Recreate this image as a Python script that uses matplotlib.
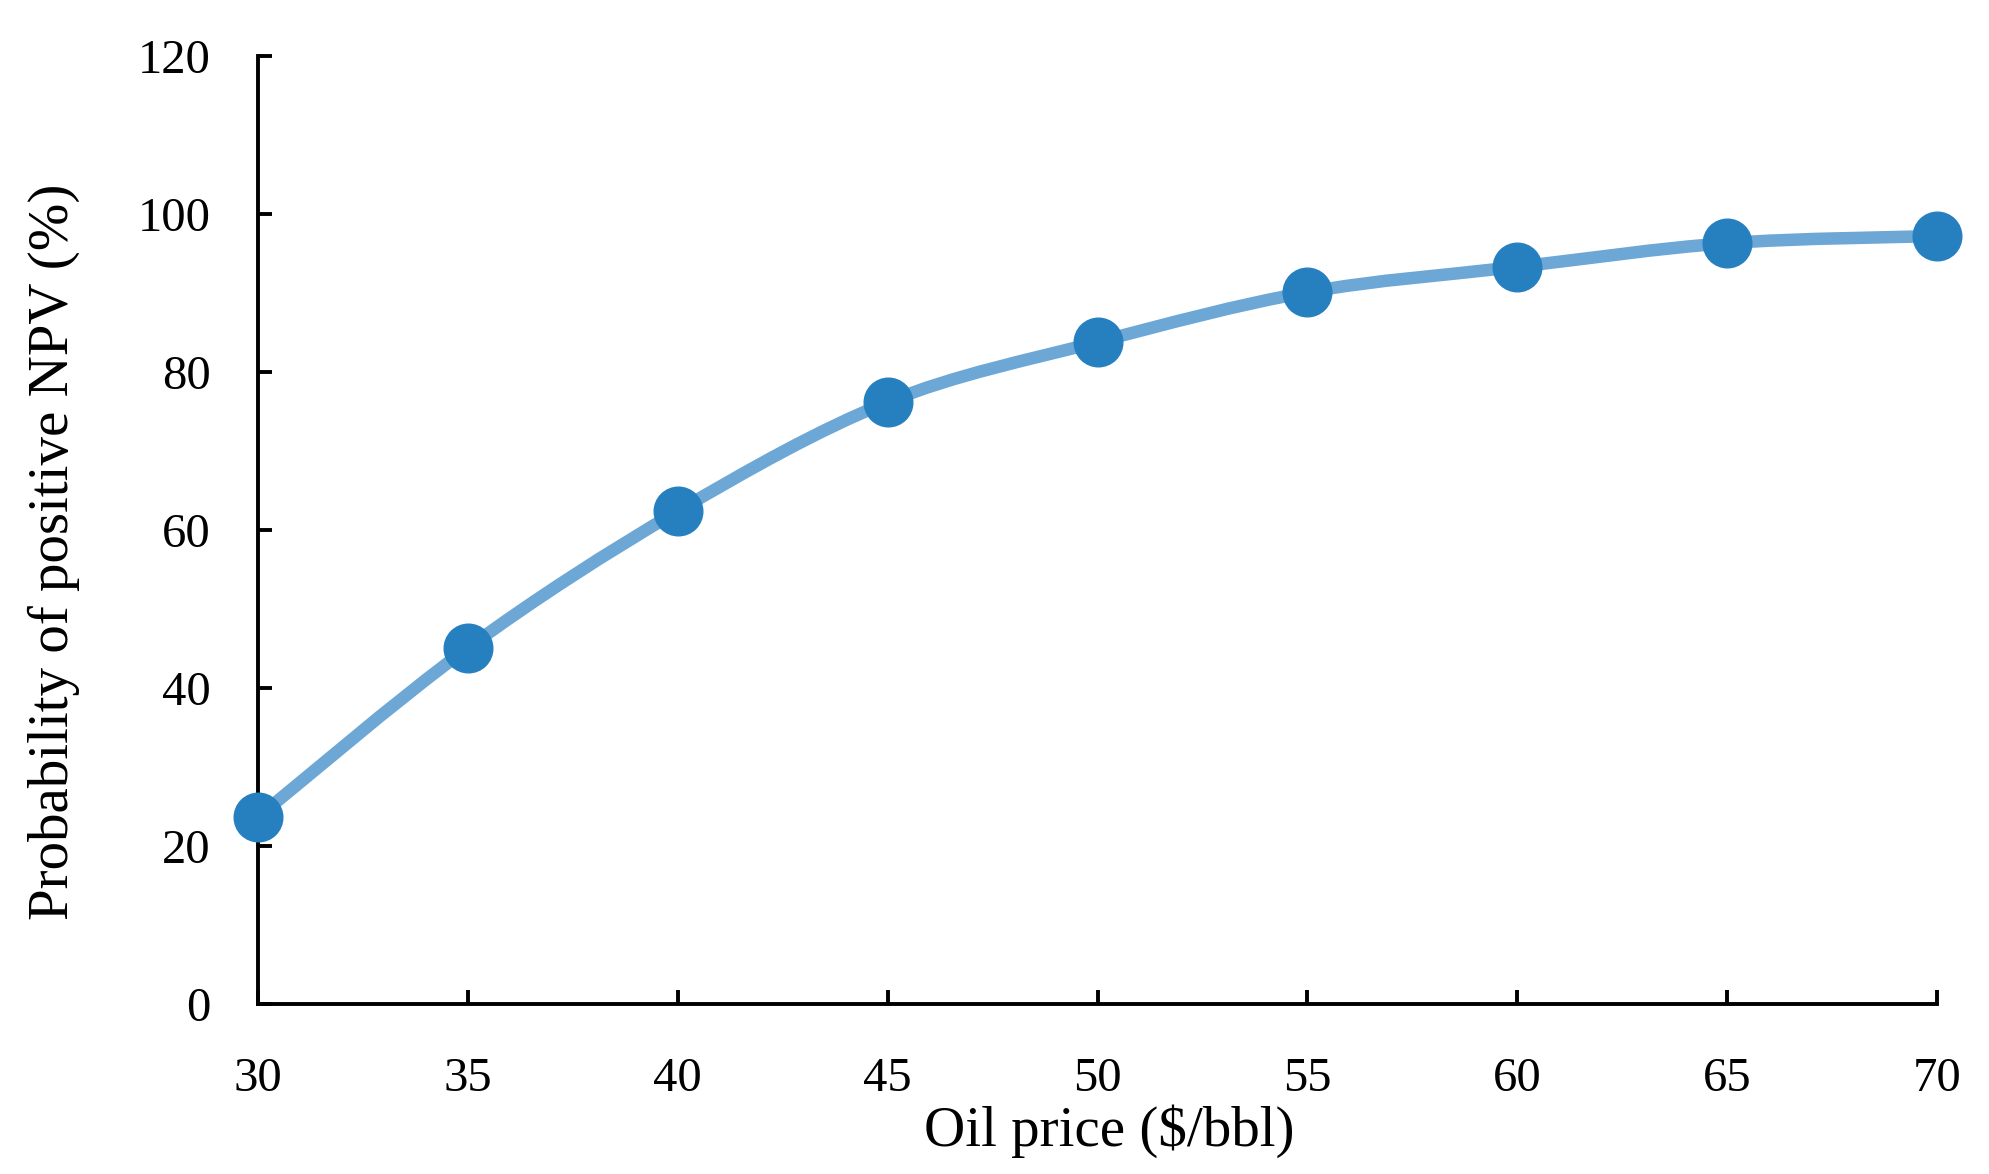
import numpy as np
import matplotlib
matplotlib.use("Agg")
import matplotlib.pyplot as plt
from matplotlib.path import Path
from matplotlib.patches import PathPatch

# oil price ($/bbl) and probability of positive NPV (%)
oil_price = [30, 35, 40, 45, 50, 55, 60, 65, 70]
prob_npv = [23.7, 45.1, 62.4, 76.2, 83.8, 90.1, 93.3, 96.3, 97.2]
x_ticks = [30, 35, 40, 45, 50, 55, 60, 65, 70]
y_ticks = [0, 20, 40, 60, 80, 100, 120]

line_color = "#6ca7d6"
marker_color = "#2680c0"


def smooth_path(xs, ys):
    # excel-like smoothed line: catmull-rom segments as cubic beziers
    xs = np.asarray(xs, float)
    ys = np.asarray(ys, float)
    n = len(xs)
    verts = [(xs[0], ys[0])]
    codes = [Path.MOVETO]
    for i in range(n - 1):
        i0 = max(i - 1, 0)
        i3 = min(i + 2, n - 1)
        c1 = (xs[i] + (xs[i + 1] - xs[i0]) / 6, ys[i] + (ys[i + 1] - ys[i0]) / 6)
        c2 = (xs[i + 1] - (xs[i3] - xs[i]) / 6, ys[i + 1] - (ys[i3] - ys[i]) / 6)
        verts += [c1, c2, (xs[i + 1], ys[i + 1])]
        codes += [Path.CURVE4] * 3
    return Path(verts, codes)


plt.rcParams['font.family'] = ['Liberation Serif', 'DejaVu Serif']

fig = plt.figure(figsize=(19.89, 11.74), dpi=100)
ax = fig.add_axes([0.1297, 0.1444, 0.8442, 0.8081])

ax.add_patch(PathPatch(smooth_path(oil_price, prob_npv), facecolor='none',
                       edgecolor=line_color, lw=9, capstyle='round', zorder=2))
ax.plot(oil_price, prob_npv, linestyle='none', marker='o', markersize=35,
        color=marker_color, zorder=3, clip_on=False)

ax.set_xlim(30, 70)
ax.set_ylim(0, 120)
ax.set_xticks(x_ticks)
ax.set_yticks(y_ticks)

for side in ['top', 'right']:
    ax.spines[side].set_visible(False)
for side in ['left', 'bottom']:
    ax.spines[side].set_linewidth(2.8)

ax.tick_params(axis='both', direction='in', length=10, width=2.8, labelsize=35)
ax.tick_params(axis='x', pad=38)
ax.tick_params(axis='y', pad=34)

ax.set_xlabel('Oil price ($/bbl)', fontsize=41)
ax.set_ylabel('Probability of positive NPV (%)', fontsize=41)
ax.xaxis.set_label_coords(0.507, -0.105)
ax.yaxis.set_label_coords(-0.106, 0.477)

fig.savefig('out.png', dpi=100)
